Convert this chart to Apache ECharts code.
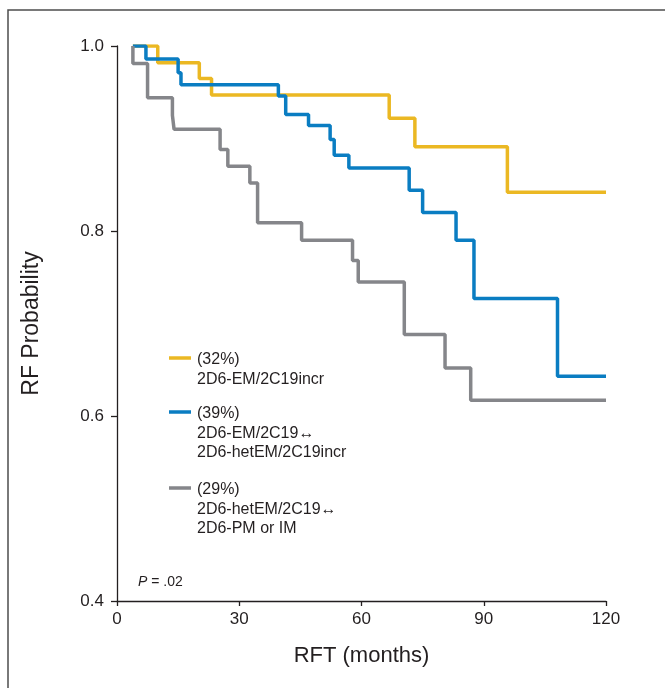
<!DOCTYPE html>
<html>
<head>
<meta charset="utf-8">
<script src="https://cdn.jsdelivr.net/npm/echarts@6/dist/echarts.min.js"></script>
<style>
  html, body { margin: 0; padding: 0; background: #fff; }
  #main { width: 665px; height: 688px; }
</style>
</head>
<body>
<div id="main"></div>
<script>
// Kaplan-Meier step points: [months, RF probability]
var yellowSteps = [[3.9, 1.0], [10.0, 0.982], [20.2, 0.965], [23.2, 0.947], [66.8, 0.922], [73.1, 0.891], [95.8, 0.842], [120, 0.842]];
var blueSteps = [[3.9, 1.0], [7.1, 0.986], [15.0, 0.971], [15.7, 0.958], [39.6, 0.946], [41.4, 0.926], [47.0, 0.914], [52.3, 0.899], [53.3, 0.882], [56.9, 0.868], [71.7, 0.844], [75.0, 0.820], [83.2, 0.790], [87.6, 0.727], [108.1, 0.643], [120, 0.643]];
var graySteps = [[3.9, 1.0], [3.9, 0.981], [7.5, 0.944], [13.6, 0.925], [14.0, 0.910], [25.3, 0.888], [27.2, 0.870], [32.6, 0.852], [34.5, 0.809], [45.3, 0.790], [57.8, 0.768], [59.2, 0.745], [70.5, 0.688], [80.5, 0.652], [86.8, 0.617], [120, 0.617]];

var groupNames = ['(32%)\n2D6-EM/2C19incr', '(39%)\n2D6-EM/2C19\u2194\n2D6-hetEM/2C19incr', '(29%)\n2D6-hetEM/2C19\u2194\n2D6-PM or IM'];
var groupColors = ['#EBB823', '#0A7DC2', '#85868A'];

var chart = echarts.init(document.getElementById('main'));

// legend drawn by hand so the swatch sits on the first text line
var legendTops = [350, 404, 480];
var legendItems = [];
groupNames.forEach(function (name, i) {
  legendItems.push({
    type: 'line',
    shape: { x1: 169, y1: legendTops[i] + 8, x2: 191, y2: legendTops[i] + 8 },
    style: { stroke: groupColors[i], lineWidth: 3.5 }
  });
  legendItems.push({
    type: 'text',
    left: 197,
    top: legendTops[i],
    style: { text: name, fill: '#231f20', font: '16px "Liberation Sans", Arial, sans-serif', lineHeight: 19.5 }
  });
});

var option = {
  animation: false,
  backgroundColor: '#fff',
  grid: { left: 117, right: 59, top: 46, bottom: 87 },
  xAxis: {
    type: 'value',
    min: 0,
    max: 120,
    interval: 30,
    name: 'RFT (months)',
    nameLocation: 'middle',
    nameGap: 44,
    nameTextStyle: { fontSize: 22, color: '#231f20', fontFamily: 'Liberation Sans' },
    axisLine: { lineStyle: { color: '#231f20', width: 1.3 } },
    axisTick: { length: 5, lineStyle: { color: '#231f20', width: 1.3 } },
    axisLabel: { margin: 10, fontSize: 17, color: '#231f20', fontFamily: 'Liberation Sans' },
    splitLine: { show: false }
  },
  yAxis: {
    type: 'value',
    min: 0.4,
    max: 1.0,
    interval: 0.2,
    name: 'RF Probability',
    nameLocation: 'middle',
    nameGap: 74,
    nameTextStyle: { fontSize: 23, color: '#231f20', fontFamily: 'Liberation Sans' },
    axisLine: { show: true, lineStyle: { color: '#231f20', width: 1.3 } },
    axisTick: { show: true, length: 6, lineStyle: { color: '#231f20', width: 1.3 } },
    axisLabel: {
      margin: 13, fontSize: 17, color: '#231f20', fontFamily: 'Liberation Sans',
      formatter: function (v) { return v.toFixed(1); }
    },
    splitLine: { show: false }
  },
  series: [
    { type: 'line', step: 'end', data: yellowSteps, showSymbol: false, lineStyle: { color: groupColors[0], width: 3.5 } },
    { type: 'line', step: 'end', data: blueSteps, showSymbol: false, lineStyle: { color: groupColors[1], width: 3.5 } },
    { type: 'line', step: 'end', data: graySteps, showSymbol: false, lineStyle: { color: groupColors[2], width: 3.5 } }
  ],
  graphic: [
    {
      type: 'rect',
      shape: { x: 8, y: 10, width: 800, height: 800 },
      style: { fill: 'none', stroke: '#4d4d4d', lineWidth: 1.5 },
      silent: true
    },
    {
      type: 'text',
      left: 138,
      top: 575,
      style: {
        text: '{i|P} = .02',
        font: '14px "Liberation Sans", Arial, sans-serif',
        fill: '#231f20',
        rich: { i: { fontStyle: 'italic', fontSize: 14, fontFamily: 'Liberation Sans' } }
      }
    }
  ].concat(legendItems)
};

chart.setOption(option);
</script>
</body>
</html>
